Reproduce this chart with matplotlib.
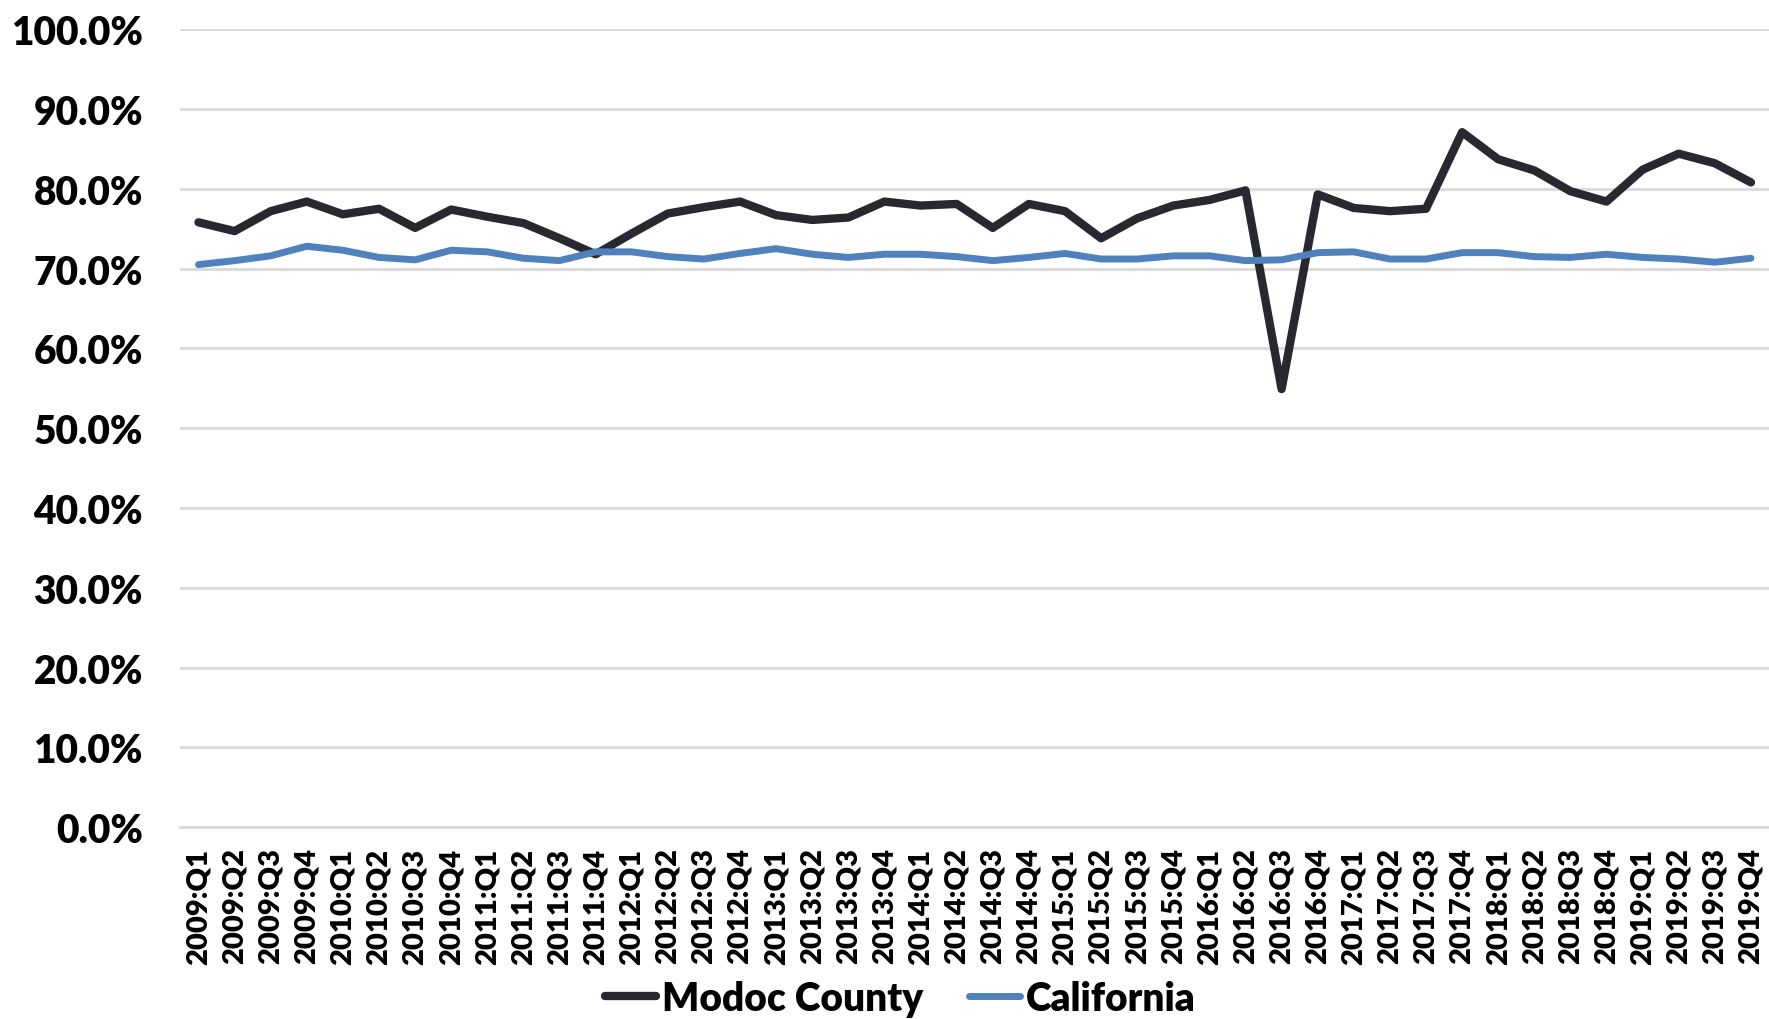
import numpy as np
import matplotlib
matplotlib.use("Agg")
import matplotlib.pyplot as plt
from matplotlib.ticker import FuncFormatter

# quarters 2009:Q1 .. 2019:Q4
quarters = [f"{y}:Q{q}" for y in range(2009, 2020) for q in range(1, 5)]

modoc = [75.8, 74.7, 77.2, 78.4, 76.8, 77.5, 75.1, 77.4, 76.5, 75.7, 73.8, 71.8,
         74.4, 76.9, 77.7, 78.4, 76.7, 76.1, 76.4, 78.4, 77.9, 78.1, 75.1, 78.1,
         77.2, 73.8, 76.3, 77.9, 78.6, 79.8, 54.9, 79.3, 77.6, 77.2, 77.5, 87.1,
         83.7, 82.3, 79.7, 78.4, 82.4, 84.4, 83.2, 80.8]

california = [70.5, 71.0, 71.6, 72.8, 72.3, 71.4, 71.1, 72.3, 72.1, 71.3, 71.0, 72.1,
              72.1, 71.5, 71.2, 71.9, 72.5, 71.8, 71.4, 71.8, 71.8, 71.5, 71.0, 71.4,
              71.9, 71.2, 71.2, 71.6, 71.6, 71.0, 71.1, 72.0, 72.1, 71.2, 71.2, 72.0,
              72.0, 71.5, 71.4, 71.8, 71.4, 71.2, 70.8, 71.3]

plt.rcParams['font.family'] = ['Lato', 'DejaVu Sans']
plt.rcParams['font.weight'] = 'bold'

fig = plt.figure(figsize=(17.69, 10.2), dpi=100)
ax = fig.add_axes([0.102, 0.188, 0.898, 0.7824])

x = np.arange(len(quarters))
ax.plot(x, modoc, color='#282830', lw=6, label='Modoc County', solid_capstyle='round',
        solid_joinstyle='round', zorder=3)
ax.plot(x, california, color='#4f81bd', lw=5, label='California', solid_capstyle='round',
        solid_joinstyle='round', zorder=3)

ax.set_xlim(-0.5, len(quarters) - 0.5)
ax.set_ylim(0, 100)
ax.set_yticks(np.arange(0, 101, 10))
ax.yaxis.set_major_formatter(FuncFormatter(lambda v, p: f"{v:.1f}%"))
ax.grid(axis='y', color='#d9d9d9', lw=2)
ax.set_axisbelow(True)

ax.set_xticks(x)
ax.set_xticklabels(quarters, rotation=90, fontsize=21, fontweight='heavy')
for lab in ax.get_yticklabels():
    lab.set_fontsize(28)
    lab.set_fontweight('heavy')
ax.tick_params(axis='both', length=0)
ax.tick_params(axis='x', pad=14.5)
ax.tick_params(axis='y', pad=27)

for s in ['top', 'right', 'left']:
    ax.spines[s].set_visible(False)
ax.spines['bottom'].set_color('#d9d9d9')
ax.spines['bottom'].set_linewidth(2)

fig.legend(loc='center', bbox_to_anchor=(0.509, 0.02), ncol=2, frameon=False,
           prop={'size': 28, 'weight': 'heavy'}, handlelength=1.3, handletextpad=0.15,
           columnspacing=1.2)

fig.savefig('out.png', dpi=100)
